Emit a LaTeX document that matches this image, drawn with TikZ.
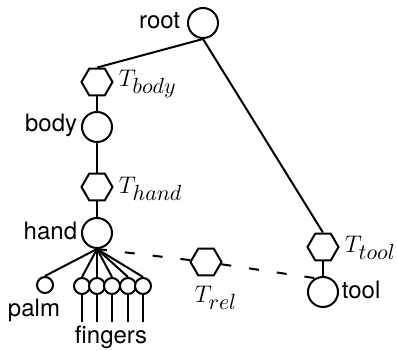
\documentclass[tikz,border=0pt]{standalone}
\usepackage{amsmath,amssymb}
\usepackage{fontspec}
\setmainfont{TeX Gyre Heros}
\usetikzlibrary{shapes.geometric}
\DeclareMathSizes{12}{13}{10.5}{8}

\begin{document}
\begin{tikzpicture}[x=0.5pt,y=0.5pt,yscale=-1,xscale=1,
  joint/.style={draw,circle,line width=1pt,minimum size=15pt,inner sep=0pt,fill=white},
  tip/.style={draw,circle,line width=1pt,minimum size=8pt,inner sep=0pt,fill=white},
  frame/.style={draw,regular polygon,regular polygon sides=6,line width=1pt,minimum size=15.5pt,inner sep=0pt,fill=white},
  bone/.style={line width=1pt},
  txt/.style={font=\fontsize{12}{14}\selectfont,inner sep=0.75pt}]
\useasboundingbox (0,0) rectangle (397,351);

%Shape: Circle [root]
\node [joint] (root) at (203,23) {};
%Shape: Hexagon [T body]
\node [frame] (Tbody) at (97,82) {};
%Shape: Circle [body]
\node [joint] (body) at (97,127) {};
%Shape: Hexagon [T hand]
\node [frame] (Thand) at (97,187) {};
%Shape: Circle [hand]
\node [joint] (hand) at (97,233) {};
%Shape: Circle [palm]
\node [tip] (palm) at (45,285) {};
%Shape: Circles [fingers]
\foreach \i/\x in {1/82,2/97,3/112,4/128,5/143}{
  \node [tip] (f\i) at (\x,286) {};
  \coordinate (e\i) at (\x,322) ;
}
%Shape: Hexagon [T rel]
\node [frame] (Trel) at (206,262) {};
%Shape: Hexagon [T tool]
\node [frame] (Ttool) at (323,247) {};
%Shape: Circle [tool]
\node [joint] (tool) at (323,292) {};

%Straight Lines
\draw [bone] (root.south) -- (Tbody.north) ;
\draw [bone] (root.south) -- (Ttool.north) ;
\draw [bone] (Tbody) -- (body) ;
\draw [bone] (body) -- (Thand) ;
\draw [bone] (Thand) -- (hand) ;
\draw [bone] (Ttool) -- (tool) ;
\draw [bone] (hand.south) -- (palm.north) ;
\foreach \i in {1,...,5}{
  \draw [bone] (hand.south) -- (f\i.north) ;
  \draw [bone] (f\i.south) -- (e\i) ;
}
%Dashed Lines
\draw [bone,dash pattern=on 5pt off 9pt] (hand.south) -- (Trel) -- (tool.120) ;

% Text Node
\node [txt,anchor=east] (lroot) at (182,21) {root};
\node [txt,anchor=west] (lTbody) at (117,84) {$T_{body}$};
\node [txt,anchor=east] (lbody) at (79,125) {body};
\node [txt,anchor=west] (lThand) at (117,189) {$T_{hand}$};
\node [txt,anchor=east] (lhand) at (79,231) {hand};
\node [txt] (lpalm) at (34,310) {palm};
\node [txt] (lfingers) at (111,337) {fingers};
\node [txt] (lTrel) at (216,298) {$T_{rel}$};
\node [txt,anchor=west] (lTtool) at (343,248) {$T_{tool}$};
\node [txt,anchor=west] (ltool) at (340,290) {tool};

\end{tikzpicture}
\end{document}
